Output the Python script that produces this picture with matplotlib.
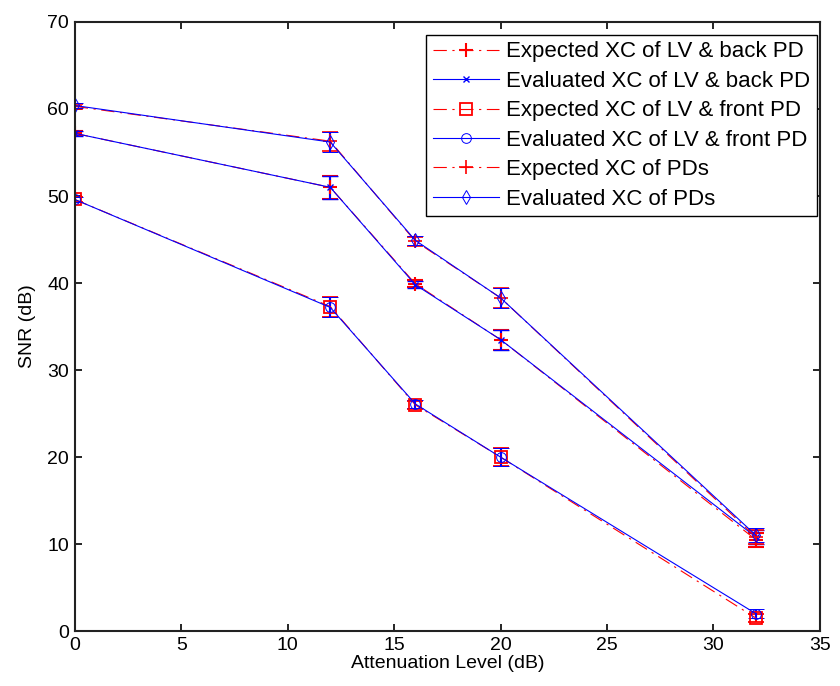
import matplotlib
matplotlib.use("Agg")
import matplotlib.pyplot as plt

plt.rcParams['font.family'] = ['Liberation Sans', 'DejaVu Sans']

atten = [0, 12, 16, 20, 32]

exp_back = [57.2, 51.0, 39.9, 33.5, 10.5]
eval_back = [57.2, 51.0, 39.8, 33.5, 10.8]
err_back = [0.3, 1.35, 0.4, 1.15, 0.8]

exp_front = [49.6, 37.3, 26.0, 20.0, 1.5]
eval_front = [49.6, 37.2, 26.1, 20.0, 2.0]
err_front = [0.3, 1.15, 0.5, 1.0, 0.5]

exp_pds = [60.3, 56.3, 44.8, 38.3, 10.8]
eval_pds = [60.4, 56.2, 44.9, 38.3, 11.0]
err_pds = [0.3, 1.1, 0.5, 1.15, 0.8]

labels = ["Expected XC of LV & back PD", "Evaluated XC of LV & back PD",
          "Expected XC of LV & front PD", "Evaluated XC of LV & front PD",
          "Expected XC of PDs", "Evaluated XC of PDs"]

fig = plt.figure(figsize=(8.4, 6.86), dpi=100)
ax = fig.add_axes([0.089, 0.080, 0.887, 0.888])

red = '#ff0000'
blue = '#0000ff'
dashdot = (0, (12, 5, 2, 5))
kw_exp = dict(color=red, ls=dashdot, lw=0.8, elinewidth=1.5, capsize=6, capthick=1.5)
kw_eval = dict(color=blue, ls='-', lw=0.8, elinewidth=1.5, capsize=6, capthick=1.5)

handles = []
h = ax.errorbar(atten, exp_back, yerr=err_back, marker='+', ms=10, mew=1.5, **kw_exp)
handles.append(h)
h = ax.errorbar(atten, eval_back, yerr=err_back, marker='x', ms=4, mew=1.0, **kw_eval)
handles.append(h)
h = ax.errorbar(atten, exp_front, yerr=err_front, marker='s', ms=9, mfc='none', mew=1.3, **kw_exp)
handles.append(h)
h = ax.errorbar(atten, eval_front, yerr=err_front, marker='o', ms=7, mfc='none', mew=0.7, **kw_eval)
handles.append(h)
h = ax.errorbar(atten, exp_pds, yerr=err_pds, marker='+', ms=10, mew=1.2, **kw_exp)
handles.append(h)
h = ax.errorbar(atten, eval_pds, yerr=err_pds, marker='d', ms=7, mfc='none', mew=0.7, **kw_eval)
handles.append(h)

lines = [hh.lines[0] for hh in handles]
leg = ax.legend(lines, labels, loc='upper right', bbox_to_anchor=(0.996, 0.979),
                fontsize=16, frameon=True,
                fancybox=False, edgecolor='black', framealpha=1,
                handlelength=3.0, borderpad=0.3, labelspacing=0.38,
                handletextpad=0.3, borderaxespad=0.0)
leg.get_frame().set_linewidth(1.0)

ax.set_xlim(0, 35)
ax.set_ylim(0, 70)
ax.set_xticks(range(0, 36, 5))
ax.set_yticks(range(0, 71, 10))
ax.tick_params(direction='in', length=5, width=1.2, labelsize=14, top=True, right=True, pad=4)
for s in ax.spines.values():
    s.set_linewidth(1.5)
    s.set_color('#222222')
ax.set_xlabel("Attenuation Level (dB)", fontsize=14, labelpad=1)
ax.set_ylabel("SNR (dB)", fontsize=14, labelpad=8)

fig.savefig("out.png", dpi=100)
